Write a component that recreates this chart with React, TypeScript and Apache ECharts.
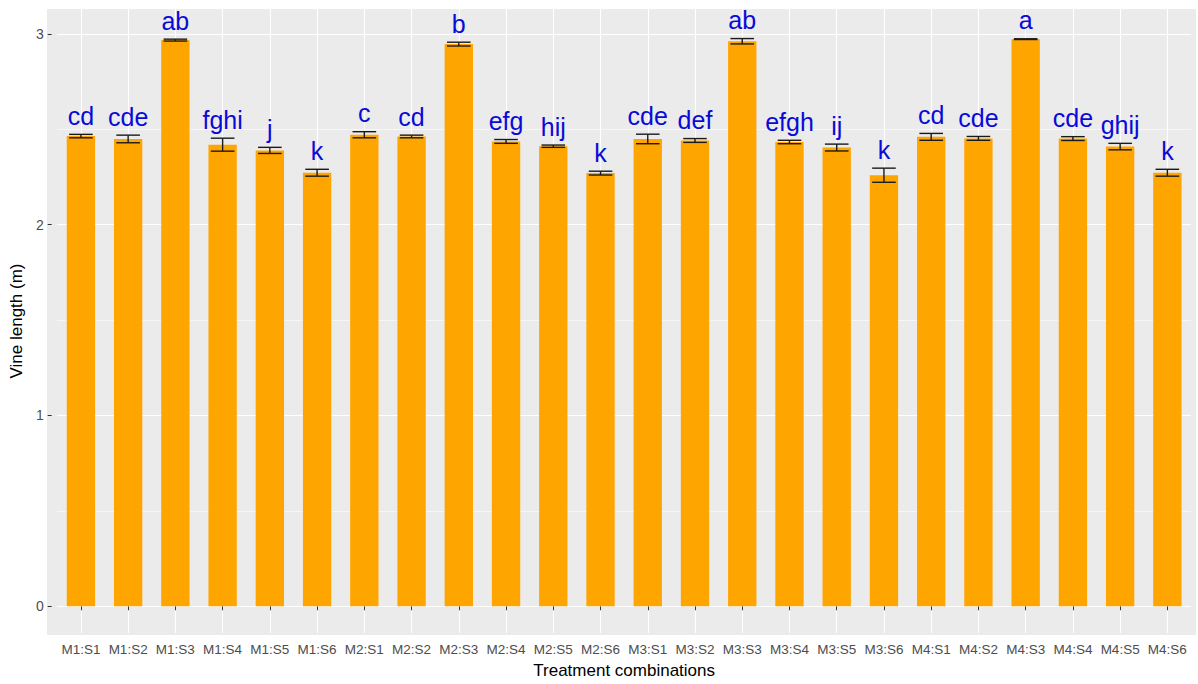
import React, { useEffect, useRef } from "react";
import * as echarts from "echarts";

const categories = [
  "M1:S1", "M1:S2", "M1:S3", "M1:S4", "M1:S5", "M1:S6",
  "M2:S1", "M2:S2", "M2:S3", "M2:S4", "M2:S5", "M2:S6",
  "M3:S1", "M3:S2", "M3:S3", "M3:S4", "M3:S5", "M3:S6",
  "M4:S1", "M4:S2", "M4:S3", "M4:S4", "M4:S5", "M4:S6",
];
const vineLength = [
  2.464, 2.449, 2.967, 2.419, 2.389, 2.272,
  2.471, 2.462, 2.946, 2.436, 2.411, 2.270,
  2.449, 2.441, 2.961, 2.433, 2.404, 2.259,
  2.460, 2.452, 2.972, 2.451, 2.409, 2.272,
];
const stdError = [
  0.009, 0.020, 0.005, 0.034, 0.016, 0.018,
  0.016, 0.007, 0.010, 0.010, 0.006, 0.010,
  0.025, 0.010, 0.014, 0.009, 0.018, 0.037,
  0.018, 0.010, 0.002, 0.010, 0.017, 0.018,
];
const sigLetters = [
  "cd", "cde", "ab", "fghi", "j", "k",
  "c", "cd", "b", "efg", "hij", "k",
  "cde", "def", "ab", "efgh", "ij", "k",
  "cd", "cde", "a", "cde", "ghij", "k",
];
const yMajorTicks = [0, 1, 2, 3];
const yMinorTicks = [0.5, 1.5, 2.5];

const FONT = "'Liberation Sans', Arial, sans-serif";

export default function App() {
  const ref = useRef<HTMLDivElement>(null);

  useEffect(() => {
    if (!ref.current) return;
    const chart = echarts.init(ref.current, undefined, { renderer: "svg" });

    const gridLines: any[] = [
      ...yMinorTicks.map((v) => ({ yAxis: v, lineStyle: { color: "#ffffff", width: 0.55, type: "solid" } })),
      ...yMajorTicks.map((v) => ({ yAxis: v, lineStyle: { color: "#ffffff", width: 1.1, type: "solid" } })),
      ...categories.map((c) => ({ xAxis: c, lineStyle: { color: "#ffffff", width: 1.1, type: "solid" } })),
    ];

    chart.setOption({
      animation: false,
      backgroundColor: "#ffffff",
      graphic: [
        {
          type: "rect",
          z: -10,
          silent: true,
          shape: { x: 47, y: 9, width: 1149, height: 626 },
          style: { fill: "#EBEBEB" },
        },
      ],
      grid: { left: 52.6, right: 7, top: 9, bottom: 49, containLabel: false },
      xAxis: {
        type: "category",
        data: categories,
        boundaryGap: true,
        axisLine: { show: false },
        axisTick: { show: true, alignWithLabel: true, length: 4, lineStyle: { color: "#333333", width: 1 } },
        axisLabel: { color: "#4D4D4D", fontSize: 13.5, fontFamily: FONT, margin: 9, interval: 0 },
        splitLine: { show: false },
        name: "Treatment combinations",
        nameLocation: "middle",
        nameGap: 29,
        nameTextStyle: { color: "#000000", fontSize: 17, fontFamily: FONT },
      },
      yAxis: {
        type: "value",
        min: -0.14,
        max: 3.13,
        offset: 5.6,
        axisLine: { show: false },
        axisTick: { show: true, length: 4, customValues: yMajorTicks, lineStyle: { color: "#333333", width: 1 } },
        axisLabel: { color: "#4D4D4D", fontSize: 14, fontFamily: FONT, margin: 8, customValues: yMajorTicks },
        splitLine: { show: false },
        name: "Vine length (m)",
        nameLocation: "middle",
        nameRotate: 90,
        nameGap: 23,
        nameTextStyle: { color: "#000000", fontSize: 17, fontFamily: FONT },
      },
      series: [
        {
          type: "line",
          z: 0,
          data: [],
          silent: true,
          markLine: {
            z: 0,
            silent: true,
            symbol: "none",
            label: { show: false },
            animation: false,
            data: gridLines,
          },
        },
        {
          type: "bar",
          z: 2,
          data: vineLength,
          barWidth: "60%",
          itemStyle: { color: "#FFA500" },
        },
        {
          type: "custom",
          z: 3,
          data: vineLength.map((v, i) => [i, v, stdError[i]]),
          renderItem: (params: any, api: any) => {
            const idx = api.value(0);
            const mean = api.value(1);
            const se = api.value(2);
            const top = api.coord([idx, mean + se]);
            const bot = api.coord([idx, mean - se]);
            const half = api.size([1, 0])[0] * 0.25;
            const ls = { stroke: "#1a1a1a", lineWidth: 1.4 };
            return {
              type: "group",
              children: [
                { type: "line", shape: { x1: top[0], y1: top[1], x2: bot[0], y2: bot[1] }, style: ls },
                { type: "line", shape: { x1: top[0] - half, y1: top[1], x2: top[0] + half, y2: top[1] }, style: ls },
                { type: "line", shape: { x1: bot[0] - half, y1: bot[1], x2: bot[0] + half, y2: bot[1] }, style: ls },
                {
                  type: "text",
                  style: {
                    text: sigLetters[params.dataIndex],
                    x: top[0],
                    y: top[1] - 6,
                    align: "center",
                    verticalAlign: "bottom",
                    fill: "#0A0AD8",
                    fontSize: 25,
                    fontFamily: FONT,
                  },
                },
              ],
            };
          },
        },
      ],
    });

    return () => chart.dispose();
  }, []);

  return <div ref={ref} style={{ width: 1198, height: 684, position: "absolute", left: 0, top: 0 }} />;
}
